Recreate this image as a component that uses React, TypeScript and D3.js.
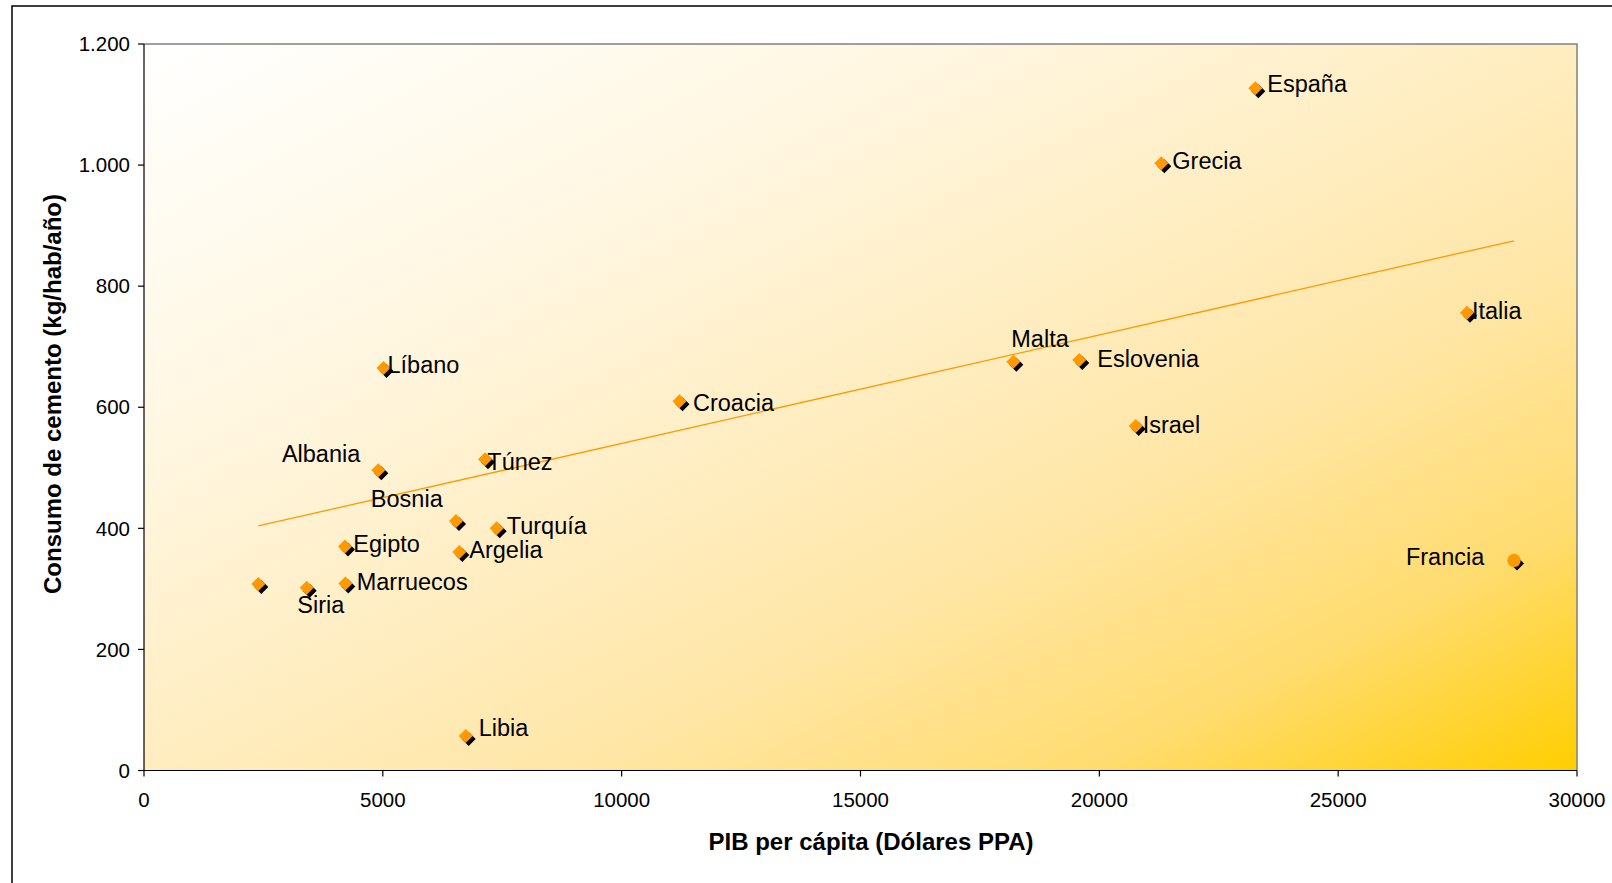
import React from "react";
import * as d3 from "d3";

// GDP per capita (PPP dollars) vs. cement consumption (kg per inhabitant per year)
const countries = [
  "España", "Grecia", "Italia", "Malta", "Eslovenia", "Israel", "Croacia",
  "Líbano", "Albania", "Túnez", "Bosnia", "Turquía", "Egipto", "Argelia",
  "Marruecos", "Siria", "", "Libia", "Francia",
];
const gdpPerCapita = [
  23265, 21297, 27697, 18199, 19580, 20761, 11211,
  5014, 4905, 7139, 6532, 7384, 4208, 6601,
  4214, 3406, 2393, 6735, 28681,
];
const cementUse = [
  1127, 1003, 756, 675, 678, 569, 610,
  665, 496, 514, 412, 400, 370, 361,
  309, 302, 308, 57, 347,
];

// Linear trend line end points
const trendX = [2393, 28681];
const trendY = [404, 875];

const xTicks = [0, 5000, 10000, 15000, 20000, 25000, 30000];
const yTicks = [0, 200, 400, 600, 800, 1000, 1200];
const yTickLabels = ["0", "200", "400", "600", "800", "1.000", "1.200"];

const xTitle = "PIB per cápita (Dólares PPA)";
const yTitle = "Consumo de cemento (kg/hab/año)";

// Label placement relative to each marker
const labelLayout: Record<string, { dx: number; dy: number; anchor: "start" | "end" }> = {
  "España": { dx: 12, dy: -4, anchor: "start" },
  "Grecia": { dx: 11, dy: -2, anchor: "start" },
  "Italia": { dx: 5, dy: -2, anchor: "start" },
  "Malta": { dx: -2, dy: -23.5, anchor: "start" },
  "Eslovenia": { dx: 18, dy: -1.7, anchor: "start" },
  "Israel": { dx: 7, dy: -1, anchor: "start" },
  "Croacia": { dx: 13.5, dy: 2, anchor: "start" },
  "Líbano": { dx: 4, dy: -3, anchor: "start" },
  "Albania": { dx: -18, dy: -16, anchor: "end" },
  "Túnez": { dx: 2.3, dy: 2.7, anchor: "start" },
  "Bosnia": { dx: -13.3, dy: -22, anchor: "end" },
  "Turquía": { dx: 10, dy: -2.5, anchor: "start" },
  "Egipto": { dx: 8.3, dy: -3, anchor: "start" },
  "Argelia": { dx: 10, dy: -2, anchor: "start" },
  "Marruecos": { dx: 11.4, dy: -1.6, anchor: "start" },
  "Siria": { dx: -9.4, dy: 17, anchor: "start" },
  "Libia": { dx: 13, dy: -8, anchor: "start" },
  "Francia": { dx: -29.7, dy: -4, anchor: "end" },
};
const roundMarkers = new Set(["Francia"]);

const W = 1612;
const H = 883;
const plot = { left: 144, top: 44, right: 1577, bottom: 770.5 };
const FONT = "'Liberation Sans', Arial, sans-serif";
const ORANGE = "#FF9900";

export default function App() {
  const x = d3.scaleLinear().domain([0, 30000]).range([plot.left, plot.right]);
  const y = d3.scaleLinear().domain([0, 1200]).range([plot.bottom, plot.top]);

  const points = countries.map((name, i) => ({
    name,
    px: x(gdpPerCapita[i]),
    py: y(cementUse[i]),
  }));

  const trend = d3
    .line<number>()
    .x((_, i) => x(trendX[i]))
    .y((v) => y(v))(trendY) as string;

  const r = 7;
  const diamond = (cx: number, cy: number) =>
    `M${cx},${cy - r}L${cx + r},${cy}L${cx},${cy + r}L${cx - r},${cy}Z`;

  return (
    <svg
      width={W}
      height={H}
      style={{ position: "absolute", left: 0, top: 0, background: "#fff" }}
      fontFamily={FONT}
    >
      <defs>
        <linearGradient id="plotFill" x1="0" y1="0" x2="1" y2="1">
          <stop offset="0" stopColor="#FFFFFF" />
          <stop offset="0.3" stopColor="#FFF6DF" />
          <stop offset="0.5" stopColor="#FFEDC0" />
          <stop offset="0.65" stopColor="#FFE6A6" />
          <stop offset="0.83" stopColor="#FFDC70" />
          <stop offset="1" stopColor="#FFCE00" />
        </linearGradient>
      </defs>

      {/* outer chart frame */}
      <rect x={12} y={6} width={W} height={H} fill="none" stroke="#000" strokeWidth={1.5} />

      {/* plot area */}
      <rect
        x={plot.left}
        y={plot.top}
        width={plot.right - plot.left}
        height={plot.bottom - plot.top}
        fill="url(#plotFill)"
      />
      <path
        d={`M${plot.left},${plot.top}H${plot.right}V${plot.bottom}`}
        fill="none"
        stroke="#808080"
        strokeWidth={1.5}
      />
      <path
        d={`M${plot.left},${plot.top}V${plot.bottom}H${plot.right}`}
        fill="none"
        stroke="#000"
        strokeWidth={1.2}
      />

      {/* y axis ticks and labels */}
      {yTicks.map((t, i) => (
        <g key={"y" + t}>
          <line x1={plot.left - 6} x2={plot.left} y1={y(t)} y2={y(t)} stroke="#000" strokeWidth={1.2} />
          <text x={130} y={y(t)} dy="0.35em" textAnchor="end" fontSize={20.5} fill="#000">
            {yTickLabels[i]}
          </text>
        </g>
      ))}

      {/* x axis ticks and labels */}
      {xTicks.map((t) => (
        <g key={"x" + t}>
          <line x1={x(t)} x2={x(t)} y1={plot.bottom} y2={plot.bottom + 6} stroke="#000" strokeWidth={1.2} />
          <text x={x(t)} y={807} textAnchor="middle" fontSize={20.5} fill="#000">
            {t}
          </text>
        </g>
      ))}

      {/* axis titles */}
      <text x={871} y={850} textAnchor="middle" fontSize={24} fontWeight="bold" fill="#000">
        {xTitle}
      </text>
      <text
        transform={`translate(61,394) rotate(-90)`}
        textAnchor="middle"
        fontSize={24}
        fontWeight="bold"
        fill="#000"
      >
        {yTitle}
      </text>

      {/* trend line */}
      <path d={trend} fill="none" stroke={ORANGE} strokeWidth={1.3} />

      {/* markers with shadow */}
      {points.map((p, i) => (
        <g key={"m" + i}>
          <path d={diamond(p.px + 3, p.py + 3)} fill="#000" />
          {roundMarkers.has(p.name) ? (
            <circle cx={p.px} cy={p.py} r={6.7} fill={ORANGE} />
          ) : (
            <path d={diamond(p.px, p.py)} fill={ORANGE} />
          )}
        </g>
      ))}

      {/* country labels */}
      {points.map((p, i) => {
        const L = labelLayout[p.name];
        if (!p.name || !L) return null;
        return (
          <text
            key={"l" + i}
            x={p.px + L.dx}
            y={p.py + L.dy}
            dy="0.35em"
            textAnchor={L.anchor}
            fontSize={23.5}
            fill="#000"
          >
            {p.name}
          </text>
        );
      })}
    </svg>
  );
}
